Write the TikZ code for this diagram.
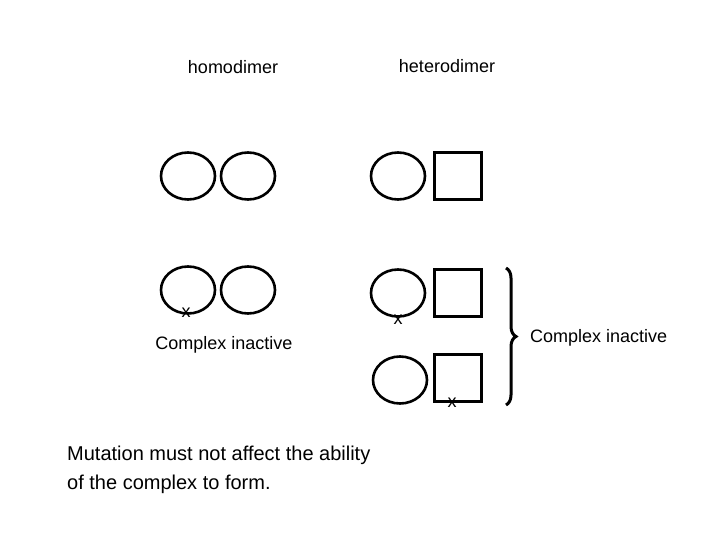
\documentclass[tikz,border=0pt]{standalone}
\usepackage{fontspec}
\setmainfont{Liberation Sans}
\usetikzlibrary{decorations.pathreplacing,shapes.geometric}
\begin{document}
\begin{tikzpicture}[x=1pt,y=-1pt,
  cir/.style={draw,line width=2.6pt,ellipse,minimum width=54,minimum height=47,inner sep=0},
  sq/.style={draw,line width=2.6pt,minimum width=47,minimum height=47,inner sep=0},
  lbl/.style={font=\fontsize{18}{20}\selectfont,inner sep=0},
  xm/.style={font=\fontsize{18}{20}\selectfont,inner sep=0}]
\useasboundingbox (0,0) rectangle (720,540);
\node[lbl] (t1) at (233,67) {homodimer};
\node[lbl] (t2) at (447,66) {heterodimer};
\node[cir] (a1) at (188,176) {};
\node[cir] (a2) at (248,176) {};
\node[cir] (b1) at (188,290) {};
\node[cir] (b2) at (248,290) {};
\node[xm] (x1) at (186,313) {x};
\node[lbl] (c1) at (224,345) {Complex inactive};
\node[cir] (h1) at (398,176) {};
\node[sq] (s1) at (458,176) {};
\node[cir] (h2) at (398,293) {};
\node[sq] (s2) at (458,293) {};
\node[xm] (x2) at (398,320) {x};
\node[cir] (h3) at (400,380) {};
\node[sq] (s3) at (458,378) {};
\node[xm] (x3) at (452,403) {x};
\coordinate (bt) at (506,268);
\coordinate (bb) at (506,405);
\draw[line width=3pt,decoration={brace,amplitude=10pt},decorate] (bt) -- (bb);
\node[lbl,anchor=west] (c2) at (530,338) {Complex inactive};
\node[lbl,anchor=north west,align=left,font=\fontsize{20}{29}\selectfont] (m) at (67,446) {Mutation must not affect the ability\\of the complex to form.};
\end{tikzpicture}
\end{document}
